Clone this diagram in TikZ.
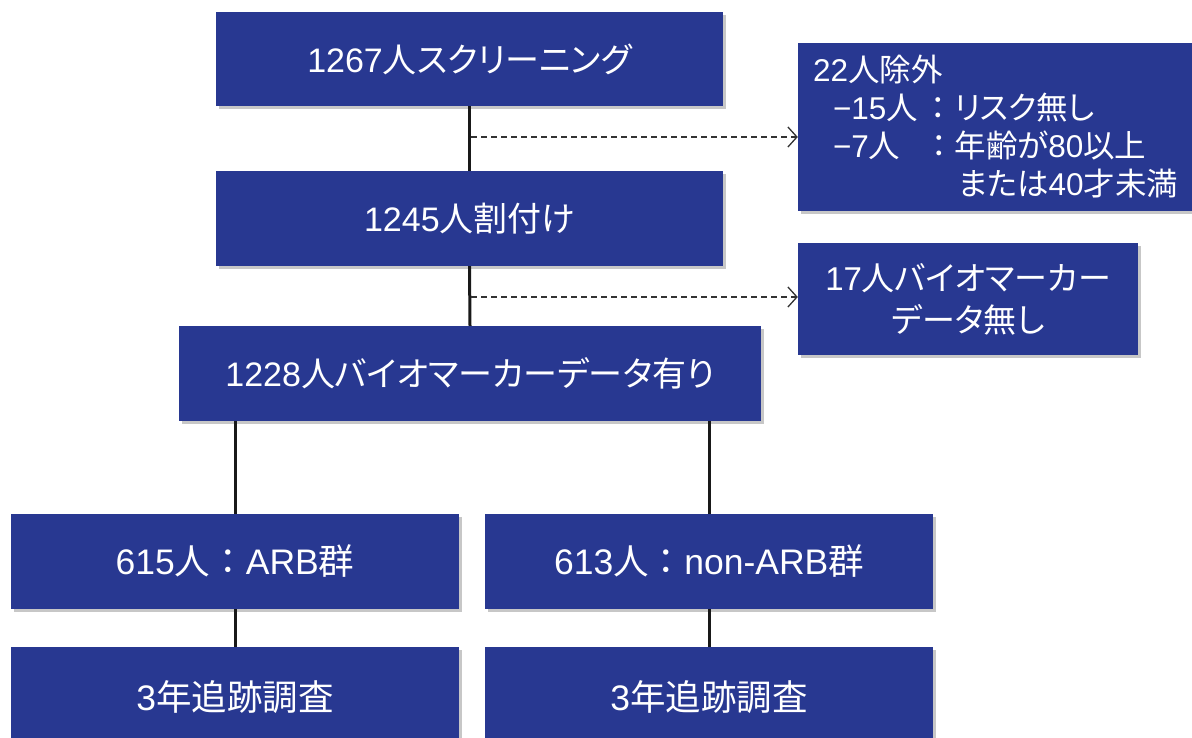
\documentclass[tikz,border=0pt]{standalone}
\usepackage{fontspec}
\setmainfont{Liberation Sans}
\newfontfamily\jpf[RawFeature=+palt]{Noto Sans CJK JP}
\newfontfamily\jpw{Noto Sans CJK JP}
\newcommand{\J}[1]{{\jpf #1}}
\newcommand{\W}[1]{{\jpw #1}}
\usetikzlibrary{arrows.meta,shadows}
\definecolor{boxblue}{HTML}{283891}
\begin{document}
\begin{tikzpicture}[x=1pt,y=-1pt,
  bluebox/.style={draw=none,fill=boxblue,text=white,inner sep=0pt,
    drop shadow={shadow xshift=3pt,shadow yshift=-3pt,opacity=0.22,fill=black},
    font=\fontsize{34}{40}\selectfont},
  lowbox/.style={bluebox,minimum width=448pt,font=\fontsize{35.5}{40}\selectfont},
  link/.style={line width=3pt,black!90},
  dashlink/.style={line width=1.3pt,black!80,dash pattern=on 6pt off 4pt,
    -{Straight Barb[length=9pt,width=20pt,line width=1.3pt]}}]
\useasboundingbox (0,0) rectangle (1192,738);
\node[bluebox,minimum width=507pt,minimum height=94pt] (b1) at (469.5,59) {1267\J{人スクリーニング}};
\node[bluebox,minimum width=507pt,minimum height=95pt] (b2) at (469.5,218.5) {1245\J{人割付け}};
\node[bluebox,minimum width=582pt,minimum height=95pt] (b3) at (470,373.5) {1228\J{人バイオマーカーデータ有り}};
\node[lowbox,minimum height=95pt] (b4) at (235,561.5) {615\J{人}\W{：}ARB\J{群}};
\node[lowbox,minimum height=95pt] (b5) at (709,561.5) {613\J{人}\W{：}non-ARB\J{群}};
\node[lowbox,minimum height=100pt] (b6) at (235,697) {3\J{年追跡調査}};
\node[lowbox,minimum height=100pt] (b7) at (709,697) {3\J{年追跡調査}};
\node[bluebox,minimum width=394pt,minimum height=168pt,align=left,
  font=\fontsize{31.5}{38}\selectfont,text width=364pt,inner xsep=15pt] (ba) at (995,127)
  {22\J{人除外}\\
   \hspace*{20pt}\makebox[90pt][l]{−15\J{人}}\W{：}\J{リスク無し}\\
   \hspace*{20pt}\makebox[90pt][l]{−7\J{人}}\W{：}\J{年齢が}80\J{以上}\\
   \hspace*{145pt}\J{または}40\J{才未満}};
\node[bluebox,minimum width=340pt,minimum height=112pt,align=center,
  font=\fontsize{33}{42}\selectfont] (bb) at (968,299)
  {17\J{人バイオマーカー}\\\J{データ無し}};
\draw[link] (b1.south) -- (b2.north);
\draw[link] (b2.south) -- (b3.north);
\draw[link] (b4.north |- b3.south) -- (b4.north);
\draw[link] (b5.north |- b3.south) -- (b5.north);
\draw[link] (b4.south) -- (b6.north);
\draw[link] (b5.south) -- (b7.north);
\coordinate (c1) at (471,137);
\coordinate (c2) at (471,297);
\draw[dashlink] (c1) -- (c1 -| ba.west);
\draw[dashlink] (c2) -- (c2 -| bb.west);
\end{tikzpicture}
\end{document}
